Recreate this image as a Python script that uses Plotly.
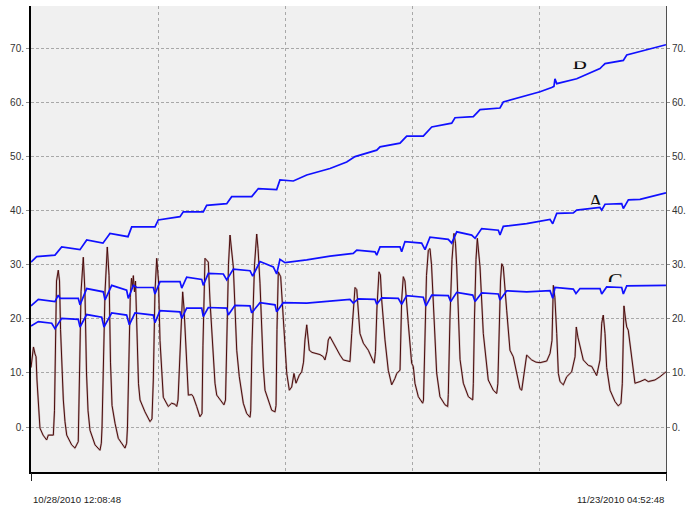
import plotly.graph_objects as go

# ---------------- data (elapsed hours since 10/28/2010 12:08:48, value) ----------------
START_LABEL = "10/28/2010 12:08:48"
END_LABEL = "11/23/2010 04:52:48"
TOTAL_HOURS = 616.733

Y_TICKS = [0, 10, 20, 30, 40, 50, 60, 70]
Y_TICK_TEXT = ["0.", "10.", "20.", "30.", "40.", "50.", "60.", "70."]

B_READINGS = [(0.0, 30.5), (5.5, 31.5), (23.3, 31.8), (29.8, 33.3), (47.6, 32.8), (54.1, 34.6),
              (69.9, 34.0), (76.7, 35.8), (94.2, 35.2), (97.8, 37.0), (120.4, 37.0), (123.6, 38.3),
              (144.7, 38.9), (147.9, 39.8), (167.3, 39.8), (170.6, 41.0), (190.1, 41.3), (194.9, 42.6),
              (214.4, 42.6), (220.8, 44.1), (238.6, 43.9), (241.8, 45.7), (254.8, 45.5), (261.3, 46.1),
              (267.8, 46.6), (290.4, 47.8), (306.6, 49.0), (314.7, 50.0), (335.8, 51.2), (339.0, 51.8),
              (358.4, 52.5), (364.9, 53.8), (381.0, 53.8), (389.2, 55.5), (408.6, 56.2), (411.8, 57.2),
              (429.6, 57.4), (436.1, 58.7), (455.5, 59.0), (458.7, 60.1), (494.4, 62.0), (505.7, 62.8),
              (507.9, 63.0), (508.9, 64.4), (510.6, 63.5), (530.0, 64.4), (552.6, 66.3), (555.8, 66.9),
              (557.5, 67.2), (575.3, 67.8), (578.6, 68.8), (616.7, 70.7)]

A_READINGS = [(0.0, 22.4), (7.1, 23.6), (23.3, 23.2), (26.5, 24.4), (28.2, 23.8), (45.9, 23.8),
              (47.6, 22.6), (54.1, 25.6), (70.2, 25.0), (71.9, 23.5), (78.4, 26.2), (92.9, 25.3),
              (94.5, 23.8), (99.4, 26.2), (102.7, 25.8), (118.8, 25.8), (120.4, 24.6), (125.3, 26.9),
              (144.7, 26.9), (146.4, 25.7), (151.2, 27.7), (165.8, 27.3), (167.3, 26.2), (172.2, 28.4),
              (186.8, 28.3), (190.1, 27.2), (196.5, 29.2), (212.7, 28.9), (215.3, 27.9), (222.4, 30.6),
              (235.3, 29.6), (238.6, 28.3), (241.8, 31.0), (246.7, 30.4), (267.8, 30.9), (290.4, 31.6),
              (313.0, 32.1), (316.4, 32.7), (334.1, 32.4), (335.8, 31.8), (339.0, 33.3), (358.4, 33.3),
              (360.0, 32.4), (363.2, 34.3), (379.4, 34.0), (382.7, 32.8), (387.5, 35.1), (405.3, 34.7),
              (408.6, 34.0), (413.5, 36.1), (428.0, 35.5), (431.3, 34.9), (437.7, 36.7), (453.9, 36.4),
              (455.5, 35.5), (458.7, 37.1), (481.4, 37.6), (504.1, 38.4), (506.7, 37.6), (510.6, 39.5),
              (526.7, 39.6), (530.0, 40.1), (552.6, 40.6), (554.3, 40.1), (557.5, 41.2), (573.7, 41.3),
              (575.3, 40.4), (580.2, 42.0), (591.5, 42.1), (616.7, 43.3)]

C_READINGS = [(0.0, 18.7), (7.1, 19.5), (20.1, 19.2), (23.3, 18.2), (29.8, 20.1), (45.9, 19.9),
              (47.6, 18.5), (54.1, 20.8), (68.7, 20.3), (70.9, 18.5), (78.4, 21.1), (92.9, 20.7),
              (95.5, 18.9), (101.0, 21.1), (118.8, 20.7), (120.4, 19.3), (125.3, 21.5), (144.7, 21.3),
              (146.4, 20.1), (151.2, 22.0), (165.8, 22.0), (167.3, 20.4), (172.2, 22.1), (190.1, 22.0),
              (191.6, 20.7), (198.1, 22.5), (212.7, 22.4), (214.3, 21.1), (222.4, 23.0), (237.0, 22.6),
              (238.6, 21.3), (245.0, 23.0), (267.8, 22.9), (290.4, 23.3), (309.8, 23.6), (313.0, 22.9),
              (317.9, 23.7), (334.1, 23.6), (335.8, 22.7), (340.6, 23.9), (356.7, 23.8), (360.0, 22.7),
              (364.9, 24.3), (381.0, 24.0), (383.6, 22.4), (389.2, 24.4), (405.3, 24.3), (407.6, 23.2),
              (413.5, 24.9), (429.0, 24.4), (431.3, 23.2), (437.7, 24.8), (453.9, 24.6), (455.5, 23.5),
              (462.0, 25.2), (481.4, 25.0), (504.1, 25.2), (506.7, 23.8), (508.9, 25.8), (526.7, 25.5),
              (529.3, 24.7), (533.2, 25.6), (552.6, 25.6), (554.3, 24.6), (559.1, 25.9), (573.7, 25.8),
              (575.3, 24.6), (578.6, 26.1), (616.7, 26.2)]

D_READINGS = [(0.0, 11.0), (1.5, 14.0), (2.4, 14.8), (3.9, 13.5), (4.9, 13.0), (5.8, 8.7), (7.3, 3.0),
              (8.7, -0.2), (11.7, -1.5), (15.2, -2.4), (16.8, -1.5), (21.7, -1.5), (22.8, 3.0),
              (23.8, 12.0), (24.8, 27.0), (26.5, 29.0), (27.7, 27.0), (28.7, 18.0), (30.1, 10.0),
              (31.4, 5.0), (33.0, 1.0), (34.7, -1.5), (39.5, -3.3), (42.7, -3.9), (45.9, -2.7),
              (46.9, 8.7), (48.6, 25.0), (50.8, 31.4), (52.4, 25.0), (53.9, 10.0), (55.4, 3.0),
              (57.3, -0.6), (62.2, -3.3), (67.0, -4.3), (68.3, -3.0), (69.0, 0.0), (70.2, 8.7),
              (71.9, 25.0), (74.1, 33.3), (75.8, 28.0), (77.2, 12.0), (78.7, 4.0), (81.6, 0.7),
              (84.8, -2.1), (91.3, -3.9), (92.9, -3.0), (93.7, 0.0), (94.5, 8.7), (95.7, 20.0),
              (96.4, 24.0), (97.6, 27.5), (98.6, 26.0), (99.4, 28.0), (100.5, 25.0), (101.5, 27.0),
              (103.0, 18.0), (104.4, 8.0), (105.9, 5.0), (110.7, 2.8), (115.6, 1.0), (117.5, 1.5),
              (118.8, 8.7), (120.4, 25.0), (122.1, 31.2), (123.8, 27.0), (125.3, 16.0), (127.2, 8.0),
              (128.5, 5.5), (133.3, 3.8), (136.6, 4.4), (139.9, 4.2), (141.5, 3.8), (142.8, 5.0),
              (144.2, 12.0), (145.2, 18.0), (147.3, 25.0), (148.6, 22.0), (149.6, 17.9), (151.2, 11.1),
              (152.8, 5.9), (156.1, 6.0), (157.6, 5.6), (160.9, 3.8), (164.1, 1.9), (166.1, 2.5),
              (167.0, 15.0), (169.0, 31.2), (172.2, 30.5), (173.8, 23.5), (177.0, 14.2), (178.7, 8.1),
              (180.4, 5.9), (183.6, 5.0), (187.4, 4.1), (188.9, 5.0), (189.9, 15.0), (191.8, 30.0),
              (193.3, 35.5), (194.7, 33.0), (196.5, 29.6), (199.8, 14.2), (202.3, 9.3), (206.2, 4.4),
              (209.5, 2.5), (212.7, 1.8), (213.4, 3.0), (214.6, 15.0), (217.1, 30.0), (219.2, 35.7),
              (220.5, 33.0), (222.4, 26.6), (225.6, 11.1), (227.3, 6.8), (230.5, 5.0), (233.8, 3.1),
              (237.0, 2.8), (238.0, 4.0), (238.9, 18.0), (240.2, 28.7), (242.5, 27.8), (245.0, 20.4),
              (248.4, 9.9), (250.9, 6.8), (253.2, 7.4), (255.4, 9.9), (257.4, 8.1), (260.6, 9.6),
              (262.9, 10.2), (264.7, 12.0), (266.1, 16.1), (267.8, 18.9), (270.3, 14.2), (272.9, 13.8),
              (277.5, 13.6), (280.7, 13.4), (283.9, 13.0), (285.5, 12.4), (287.5, 14.0), (288.7, 16.1),
              (290.4, 16.7), (293.6, 15.5), (297.2, 14.2), (300.1, 13.3), (303.3, 12.4), (309.8, 12.1),
              (311.5, 17.3), (313.7, 24.0), (314.7, 25.8), (316.4, 25.4), (317.9, 20.4), (319.5, 17.3),
              (322.8, 15.5), (327.6, 14.2), (332.5, 12.1), (333.4, 11.8), (334.6, 14.0), (336.0, 22.0),
              (338.0, 28.7), (339.4, 28.1), (340.6, 23.5), (343.8, 16.1), (347.0, 10.5), (350.3, 7.8),
              (353.5, 9.0), (355.2, 9.9), (358.4, 10.5), (359.3, 18.0), (360.0, 23.5), (361.6, 27.8),
              (363.2, 27.0), (366.4, 19.2), (369.7, 11.8), (371.3, 11.2), (372.9, 8.1), (376.2, 5.6),
              (380.4, 4.4), (381.2, 5.0), (382.2, 15.0), (384.1, 28.0), (385.9, 32.7), (387.5, 33.0),
              (389.0, 30.0), (390.7, 23.5), (394.0, 10.0), (397.2, 5.6), (402.1, 4.1), (404.7, 3.8),
              (405.3, 6.0), (406.9, 20.0), (408.9, 31.0), (410.8, 35.8), (412.3, 34.0), (413.5, 29.6),
              (415.2, 20.0), (416.7, 12.5), (419.9, 8.1), (424.8, 5.6), (429.0, 5.0), (429.6, 8.0),
              (430.7, 20.0), (432.2, 31.0), (433.5, 34.9), (434.6, 33.0), (436.1, 29.6), (439.3, 17.3),
              (442.6, 11.1), (444.1, 8.7), (449.0, 6.8), (452.3, 6.2), (453.4, 8.0), (454.5, 18.0),
              (456.0, 27.0), (457.2, 30.2), (458.7, 29.6), (462.0, 21.6), (465.2, 14.2), (468.4, 13.0),
              (471.7, 10.0), (474.9, 7.1), (476.6, 6.8), (478.3, 9.0), (479.8, 11.4), (481.4, 13.3),
              (486.3, 12.4), (490.4, 12.0), (494.4, 11.9), (500.9, 12.2), (504.1, 13.6), (506.0, 16.0),
              (507.3, 26.2), (508.8, 24.0), (510.6, 17.3), (512.2, 9.9), (513.8, 8.4), (517.0, 7.8),
              (520.3, 9.3), (525.1, 10.2), (528.4, 13.0), (529.6, 18.5), (531.3, 16.5), (533.2, 14.8),
              (536.4, 12.4), (541.3, 11.4), (544.6, 11.2), (549.4, 9.5), (552.6, 12.4), (554.3, 19.2),
              (555.8, 20.7), (557.5, 17.3), (559.1, 11.0), (562.4, 6.8), (567.2, 4.7), (570.4, 3.9),
              (573.0, 4.4), (574.3, 8.0), (575.1, 18.0), (575.9, 22.4), (577.4, 20.0), (578.6, 18.5),
              (580.1, 17.9), (583.4, 13.0), (586.6, 8.1), (591.5, 8.4), (596.3, 8.8), (599.5, 8.4),
              (606.0, 8.7), (610.9, 9.3), (616.7, 10.2)]

# curve labels: text, elapsed hours, value of glyph centre
LABELS = ["B", "A", "C"]
LABEL_HOURS = [533.0, 548.5, 567.5]
LABEL_VALUES = [67.2, 41.25, 26.7]
# visible window of each label (hours from, hours to, value from, value to)
LABEL_WINDOWS = [(522.0, 546.0, 65.4, 67.6),
                 (538.0, 560.0, 41.1, 43.5),
                 (556.0, 580.0, 26.8, 29.5)]


def split(readings):
    return [r[0] for r in readings], [r[1] for r in readings]


# ---------------- figure ----------------
W, H = 694, 511
M_L, M_R, M_T, M_B = 31, 28, 6, 39
X_RANGE = [0.0, TOTAL_HOURS]
Y_RANGE = [-8.32, 77.86]

BLUE = "#1010FF"
BROWN = "#4A0B0B"
GRID = "#A8A8A8"
FONT = "Liberation Sans"

fig = go.Figure()

dh, dv = split(D_READINGS)
fig.add_trace(go.Scatter(x=dh, y=dv, mode="lines", line=dict(color="rgba(150,105,105,0.45)", width=2.0),
                         hoverinfo="skip", showlegend=False))
fig.add_trace(go.Scatter(x=dh, y=dv, mode="lines", line=dict(color=BROWN, width=1.0),
                         name="D", showlegend=False))
for nm, rd in (("B", B_READINGS), ("A", A_READINGS)):
    h, v = split(rd)
    fig.add_trace(go.Scatter(x=h, y=v, mode="lines", line=dict(color=BLUE, width=1.7),
                             name=nm, showlegend=False))
h, v = split(C_READINGS)
fig.add_trace(go.Scatter(x=h, y=v, mode="lines", line=dict(color=BLUE, width=1.7),
                         name="C", showlegend=False, xaxis="x2", yaxis="y2"))

# clipped curve labels, each in its own small window sharing the main scale
layout_extra = {}
for i, (txt, lx, ly, win) in enumerate(zip(LABELS, LABEL_HOURS, LABEL_VALUES, LABEL_WINDOWS)):
    n = i + 3
    hx0, hx1, vy0, vy1 = win
    dx = [(hx0 - X_RANGE[0]) / (X_RANGE[1] - X_RANGE[0]), (hx1 - X_RANGE[0]) / (X_RANGE[1] - X_RANGE[0])]
    dy = [(vy0 - Y_RANGE[0]) / (Y_RANGE[1] - Y_RANGE[0]), (vy1 - Y_RANGE[0]) / (Y_RANGE[1] - Y_RANGE[0])]
    layout_extra[f"xaxis{n}"] = dict(domain=dx, range=[hx0, hx1], visible=False, anchor=f"y{n}",
                                     fixedrange=True)
    layout_extra[f"yaxis{n}"] = dict(domain=dy, range=[vy0, vy1], visible=False, anchor=f"x{n}",
                                     fixedrange=True)
    fig.add_trace(go.Scatter(x=[lx], y=[ly], mode="text", text=[txt], textposition="middle center",
                             textfont=dict(family="Liberation Serif", size=22, color="#111111"),
                             xaxis=f"x{n}", yaxis=f"y{n}", cliponaxis=True, hoverinfo="skip",
                             showlegend=False))

fifths = [TOTAL_HOURS * k / 5 for k in range(1, 5)]

fig.update_layout(
    width=W, height=H,
    margin=dict(l=M_L, r=M_R, t=M_T, b=M_B, pad=0),
    paper_bgcolor="white",
    plot_bgcolor="rgba(0,0,0,0)",
    font=dict(family=FONT, size=10, color="#333333"),
    showlegend=False,
    xaxis=dict(range=X_RANGE, tickvals=fifths, showticklabels=False, ticks="",
               showgrid=True, gridcolor=GRID, gridwidth=1, griddash="3px,3px",
               showline=True, linecolor="black", linewidth=2, zeroline=False, fixedrange=True),
    xaxis2=dict(range=X_RANGE, overlaying="x", anchor="y2", side="bottom", tickvals=[0, TOTAL_HOURS],
                showticklabels=False, ticks="outside", ticklen=8, tickwidth=1, tickcolor="#222222",
                showgrid=False, showline=False, zeroline=False, fixedrange=True),
    yaxis=dict(range=Y_RANGE, tickvals=Y_TICKS, ticktext=Y_TICK_TEXT, ticks="outside", ticklen=3,
               tickcolor="#909090", showgrid=True, gridcolor=GRID, gridwidth=1, griddash="3px,2px",
               showline=True, linecolor="black", linewidth=2, zeroline=False,
               tickfont=dict(family=FONT, size=10, color="#333333"), fixedrange=True),
    yaxis2=dict(range=Y_RANGE, overlaying="y", side="right", anchor="x2", tickvals=Y_TICKS,
                ticktext=Y_TICK_TEXT, ticks="outside", ticklen=3, tickcolor="#909090",
                showgrid=False, showline=True, linecolor="#505050", linewidth=1, zeroline=False,
                tickfont=dict(family=FONT, size=10, color="#333333"), fixedrange=True),
    shapes=[dict(type="rect", xref="paper", yref="paper", x0=0, x1=1, y0=0, y1=1,
                 fillcolor="#F0F0F0", line=dict(width=0), layer="below")],
    annotations=[
        dict(text=START_LABEL, xref="paper", yref="paper", x=0, y=-0.058, xanchor="left",
             yanchor="middle", showarrow=False, font=dict(family=FONT, size=9.6, color="#222222")),
        dict(text=END_LABEL, xref="paper", yref="paper", x=1, y=-0.058, xanchor="right",
             yanchor="middle", showarrow=False, font=dict(family=FONT, size=9.6, color="#222222")),
    ],
    **layout_extra,
)

fig.write_html("out.html")
